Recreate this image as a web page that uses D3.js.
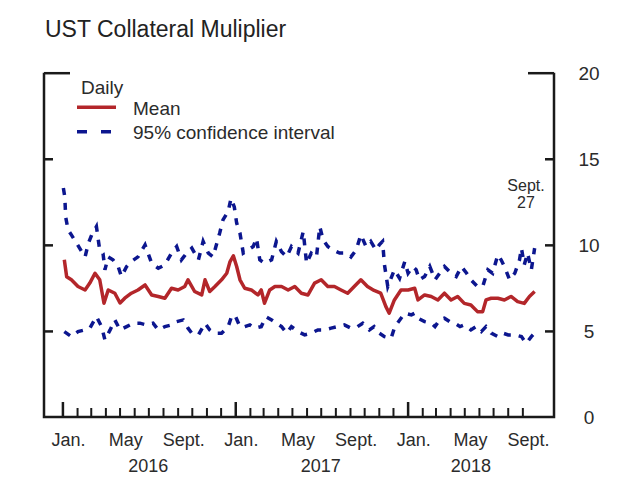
<!DOCTYPE html>
<html>
<head>
<meta charset="utf-8">
<script src="https://cdn.jsdelivr.net/npm/d3@7"></script>
<style>
  html, body { margin: 0; padding: 0; background: #fff; }
  text { font-family: "Liberation Sans", Arial, sans-serif; }
</style>
</head>
<body>
<svg id="chart" width="622" height="477"></svg>
<script>
const titleText = "UST Collateral Muliplier";
const legendTitle = "Daily";
const seriesNames = ["Mean", "95% confidence interval"];
const yTicks = [0, 5, 10, 15, 20];
const monthLabels = [
  ["2016-01-14", "Jan."], ["2016-05-14", "May"], ["2016-09-14", "Sept."],
  ["2017-01-14", "Jan."], ["2017-05-14", "May"], ["2017-09-14", "Sept."],
  ["2018-01-14", "Jan."], ["2018-05-14", "May"], ["2018-09-14", "Sept."]
];
const yearLabels = [["2016-07-01", "2016"], ["2017-07-01", "2017"], ["2018-05-15", "2018"]];
const annotation = ["Sept.", "27"];

const meanSeries = [
["2016-01-05",9.13],["2016-01-10",8.15],["2016-01-20",7.97],["2016-02-03",7.58],["2016-02-18",7.38],
["2016-02-28",7.78],["2016-03-10",8.35],["2016-03-20",7.97],["2016-03-29",6.61],["2016-04-07",7.38],
["2016-04-21",7.19],["2016-05-02",6.62],["2016-05-12",6.90],["2016-05-26",7.19],["2016-06-09",7.38],
["2016-06-24",7.67],["2016-07-08",7.09],["2016-07-22",7.00],["2016-08-05",6.90],["2016-08-19",7.48],
["2016-09-02",7.38],["2016-09-16",7.58],["2016-09-23",7.97],["2016-10-07",7.29],["2016-10-22",7.09],
["2016-10-29",7.97],["2016-11-08",7.29],["2016-11-19",7.58],["2016-12-03",7.97],["2016-12-14",8.35],
["2016-12-21",9.03],["2016-12-28",9.36],["2017-01-04",8.74],["2017-01-11",7.97],["2017-01-21",7.48],
["2017-02-04",7.38],["2017-02-18",7.09],["2017-02-25",7.38],["2017-03-04",6.61],["2017-03-15",7.38],
["2017-03-26",7.58],["2017-04-09",7.58],["2017-04-23",7.38],["2017-05-07",7.58],["2017-05-21",7.19],
["2017-06-04",7.09],["2017-06-18",7.78],["2017-07-02",7.97],["2017-07-16",7.58],["2017-07-30",7.58],
["2017-08-13",7.38],["2017-08-27",7.19],["2017-09-10",7.58],["2017-09-24",7.97],["2017-10-08",7.58],
["2017-10-22",7.35],["2017-11-05",7.19],["2017-11-16",6.41],["2017-11-23",6.03],["2017-12-04",6.80],
["2017-12-18",7.38],["2018-01-02",7.38],["2018-01-16",7.48],["2018-01-23",6.80],["2018-02-06",7.09],
["2018-02-20",7.00],["2018-03-06",6.80],["2018-03-20",7.19],["2018-04-03",6.80],["2018-04-17",7.00],
["2018-05-01",6.60],["2018-05-15",6.51],["2018-05-29",6.12],["2018-06-09",6.12],["2018-06-16",6.80],
["2018-06-27",6.90],["2018-07-11",6.90],["2018-07-25",6.80],["2018-08-08",7.00],["2018-08-22",6.70],
["2018-09-05",6.60],["2018-09-16",7.00],["2018-09-27",7.29]
];

const upperSeries = [
["2016-01-03",13.3],["2016-01-06",12.8],["2016-01-08",11.6],["2016-01-13",10.87],["2016-01-20",10.58],
["2016-01-31",10.1],["2016-02-11",9.6],["2016-02-18",9.3],["2016-02-25",10.1],["2016-03-03",10.58],
["2016-03-13",11.06],["2016-03-20",9.7],["2016-03-27",9.5],["2016-03-31",8.55],["2016-04-07",9.3],
["2016-04-17",9.13],["2016-04-28",8.74],["2016-05-05",8.16],["2016-05-16",8.74],["2016-05-26",9.03],
["2016-06-09",9.3],["2016-06-24",10.0],["2016-07-08",8.93],["2016-07-22",8.64],["2016-08-05",8.84],
["2016-08-19",9.52],["2016-08-30",9.9],["2016-09-09",9.13],["2016-09-20",9.52],["2016-10-01",9.81],
["2016-10-15",9.13],["2016-10-25",10.2],["2016-11-05",9.52],["2016-11-15",9.3],["2016-11-19",9.7],
["2016-11-29",10.68],["2016-12-06",11.45],["2016-12-17",11.94],["2016-12-23",12.7],["2016-12-30",12.2],
["2017-01-04",11.26],["2017-01-11",10.68],["2017-01-18",9.52],["2017-01-28",9.7],["2017-02-08",9.9],
["2017-02-15",10.39],["2017-02-22",9.13],["2017-03-04",8.93],["2017-03-19",9.13],["2017-03-29",10.2],
["2017-04-09",9.6],["2017-04-20",9.3],["2017-04-30",9.9],["2017-05-14",9.52],["2017-05-25",10.77],
["2017-06-01",8.93],["2017-06-11",9.52],["2017-06-22",9.3],["2017-06-29",11.06],["2017-07-06",10.29],
["2017-07-16",9.9],["2017-07-27",9.7],["2017-08-10",9.52],["2017-08-24",9.52],["2017-09-03",9.3],
["2017-09-14",9.7],["2017-09-24",10.58],["2017-10-05",9.9],["2017-10-15",10.2],["2017-10-26",9.7],
["2017-11-02",10.0],["2017-11-09",10.2],["2017-11-13",8.84],["2017-11-20",7.58],["2017-12-04",8.55],
["2017-12-15",8.06],["2017-12-26",9.03],["2018-01-02",8.35],["2018-01-12",8.74],["2018-01-19",8.55],
["2018-01-26",7.97],["2018-02-06",8.16],["2018-02-17",8.74],["2018-02-28",7.97],["2018-03-10",8.35],
["2018-03-20",8.74],["2018-04-03",8.35],["2018-04-14",8.16],["2018-04-25",8.74],["2018-05-06",8.35],
["2018-05-15",7.97],["2018-05-29",7.58],["2018-06-09",7.58],["2018-06-20",8.55],["2018-06-30",8.35],
["2018-07-11",9.42],["2018-07-18",9.13],["2018-07-25",8.74],["2018-08-05",7.97],["2018-08-16",8.35],
["2018-08-26",9.13],["2018-08-30",9.81],["2018-09-05",8.84],["2018-09-12",9.52],["2018-09-20",8.55],
["2018-09-27",9.81]
];

const lowerSeries = [
["2016-01-05",4.96],["2016-01-20",4.67],["2016-02-03",4.96],["2016-02-18",5.06],["2016-02-28",5.16],
["2016-03-13",5.83],["2016-03-24",5.25],["2016-03-31",4.48],["2016-04-11",5.06],["2016-04-21",5.64],
["2016-05-02",5.06],["2016-05-16",5.25],["2016-05-30",5.45],["2016-06-13",5.45],["2016-06-27",5.35],
["2016-07-11",5.45],["2016-07-22",5.06],["2016-08-05",5.25],["2016-08-19",5.35],["2016-08-30",5.54],
["2016-09-13",5.64],["2016-09-23",5.16],["2016-10-01",4.87],["2016-10-15",4.77],["2016-10-29",5.45],
["2016-11-08",5.06],["2016-11-19",4.87],["2016-12-03",4.87],["2016-12-17",5.25],["2016-12-24",5.83],
["2016-12-31",5.93],["2017-01-11",5.25],["2017-01-21",5.25],["2017-02-01",5.35],["2017-02-11",5.16],
["2017-02-25",5.25],["2017-03-07",5.83],["2017-03-19",5.64],["2017-03-29",5.45],["2017-04-09",5.25],
["2017-04-20",4.87],["2017-04-30",5.25],["2017-05-14",4.96],["2017-05-28",4.77],["2017-06-11",4.87],
["2017-06-25",5.06],["2017-07-09",5.06],["2017-07-23",5.16],["2017-08-06",5.25],["2017-08-20",5.35],
["2017-09-03",5.16],["2017-09-17",5.25],["2017-09-28",5.45],["2017-10-12",5.06],["2017-10-22",5.25],
["2017-11-02",4.87],["2017-11-13",4.67],["2017-11-27",4.57],["2017-12-05",5.25],["2017-12-26",6.03],
["2018-01-09",5.93],["2018-01-16",6.03],["2018-01-23",5.74],["2018-02-06",5.54],["2018-02-20",5.45],
["2018-02-28",5.25],["2018-03-10",5.64],["2018-03-20",5.74],["2018-03-31",5.54],["2018-04-11",5.45],
["2018-04-22",5.25],["2018-05-01",5.35],["2018-05-15",5.06],["2018-05-26",5.25],["2018-06-06",4.96],
["2018-06-16",5.25],["2018-06-27",4.87],["2018-07-11",4.67],["2018-07-22",4.87],["2018-08-02",4.77],
["2018-08-16",4.77],["2018-08-30",4.67],["2018-09-09",4.28],["2018-09-20",4.67],["2018-09-27",4.87]
];

const parse = d3.utcParse("%Y-%m-%d");
const RED = "#b3262a", BLUE = "#0c168f", INK = "#1a1a1a", TXT = "#2b2b2b";

const svg = d3.select("#chart");
const L = 44, R = 554, T = 72.7, B = 417;

const x = d3.scaleUtc()
  .domain([parse("2015-11-23"), parse("2018-11-07")])
  .range([L, R]);
const y = d3.scaleLinear().domain([0, 20]).range([B, T]);

// title
svg.append("text").attr("x", 45).attr("y", 37)
  .attr("font-size", 23).attr("fill", "#222").text(titleText);

// lines
const line = d3.line().x(d => x(parse(d[0]))).y(d => y(d[1]));

svg.append("path").datum(upperSeries).attr("d", line)
  .attr("fill", "none").attr("stroke", BLUE).attr("stroke-width", 3.5)
  .attr("stroke-dasharray", "7,8");
svg.append("path").datum(lowerSeries).attr("d", line)
  .attr("fill", "none").attr("stroke", BLUE).attr("stroke-width", 3.5)
  .attr("stroke-dasharray", "7,8");
svg.append("path").datum(meanSeries).attr("d", line)
  .attr("fill", "none").attr("stroke", RED).attr("stroke-width", 3.5)
  .attr("stroke-linejoin", "round");

// frame
svg.append("path")
  .attr("d", `M${L},${T}V${B}H${R}V${T}`)
  .attr("fill", "none").attr("stroke", INK).attr("stroke-width", 2.5);

// y ticks (inward) both sides
const inner = yTicks.filter(v => v > 0 && v < 20);
svg.append("g").attr("transform", `translate(${L},0)`)
  .call(d3.axisLeft(y).tickValues(inner).tickSize(-9).tickFormat(""))
  .call(g => g.select(".domain").remove())
  .call(g => g.selectAll("line").attr("stroke", INK).attr("stroke-width", 2.5));
svg.append("g").attr("transform", `translate(${R},0)`)
  .call(d3.axisRight(y).tickValues(inner).tickSize(-9).tickFormat(""))
  .call(g => g.select(".domain").remove())
  .call(g => g.selectAll("line").attr("stroke", INK).attr("stroke-width", 2.5));
// top stubs at 20
svg.append("g").attr("transform", `translate(${L},0)`)
  .call(d3.axisLeft(y).tickValues([20]).tickSize(-26).tickFormat(""))
  .call(g => g.select(".domain").remove())
  .call(g => g.selectAll("line").attr("stroke", INK).attr("stroke-width", 2.5));
svg.append("g").attr("transform", `translate(${R},0)`)
  .call(d3.axisRight(y).tickValues([20]).tickSize(-26).tickFormat(""))
  .call(g => g.select(".domain").remove())
  .call(g => g.selectAll("line").attr("stroke", INK).attr("stroke-width", 2.5));

// y labels on right
svg.append("g").selectAll("text").data(yTicks).join("text")
  .attr("x", 589).attr("y", d => y(d)).attr("dy", "0.36em")
  .attr("text-anchor", "middle").attr("font-size", 19).attr("fill", TXT)
  .text(d => d);

// x ticks: months minor, years major
const months = d3.utcMonth.range(parse("2016-01-01"), parse("2018-09-02"));
const minor = months.filter(d => d.getUTCMonth() !== 0);
const major = months.filter(d => d.getUTCMonth() === 0);
svg.append("g").attr("transform", `translate(0,${B})`)
  .call(d3.axisBottom(x).tickValues(minor).tickSize(-9).tickFormat(""))
  .call(g => g.select(".domain").remove())
  .call(g => g.selectAll("line").attr("stroke", INK).attr("stroke-width", 2));
svg.append("g").attr("transform", `translate(0,${B})`)
  .call(d3.axisBottom(x).tickValues(major).tickSize(-15).tickFormat(""))
  .call(g => g.select(".domain").remove())
  .call(g => g.selectAll("line").attr("stroke", INK).attr("stroke-width", 2.5));

// x labels
svg.append("g").selectAll("text").data(monthLabels).join("text")
  .attr("x", d => x(parse(d[0]))).attr("y", 445.5)
  .attr("text-anchor", "middle").attr("font-size", 18).attr("fill", TXT)
  .text(d => d[1]);
svg.append("g").selectAll("text").data(yearLabels).join("text")
  .attr("x", d => x(parse(d[0]))).attr("y", 471.5)
  .attr("text-anchor", "middle").attr("font-size", 18).attr("fill", TXT)
  .text(d => d[1]);

// annotation
svg.append("text").attr("x", 526).attr("y", 190.5).attr("text-anchor", "middle")
  .attr("font-size", 16).attr("fill", TXT).text(annotation[0]);
svg.append("text").attr("x", 526).attr("y", 208).attr("text-anchor", "middle")
  .attr("font-size", 16).attr("fill", TXT).text(annotation[1]);

// legend
svg.append("text").attr("x", 81).attr("y", 93.5).attr("font-size", 19)
  .attr("fill", TXT).text(legendTitle);
svg.append("line").attr("x1", 77).attr("x2", 116).attr("y1", 107.3).attr("y2", 107.3)
  .attr("stroke", RED).attr("stroke-width", 3.5);
svg.append("text").attr("x", 133).attr("y", 115).attr("font-size", 19)
  .attr("fill", TXT).text(seriesNames[0]);
svg.append("line").attr("x1", 77).attr("x2", 114).attr("y1", 131.7).attr("y2", 131.7)
  .attr("stroke", BLUE).attr("stroke-width", 3.5).attr("stroke-dasharray", "10,14");
svg.append("text").attr("x", 133).attr("y", 138.5).attr("font-size", 19)
  .attr("fill", TXT).text(seriesNames[1]);
</script>
</body>
</html>
